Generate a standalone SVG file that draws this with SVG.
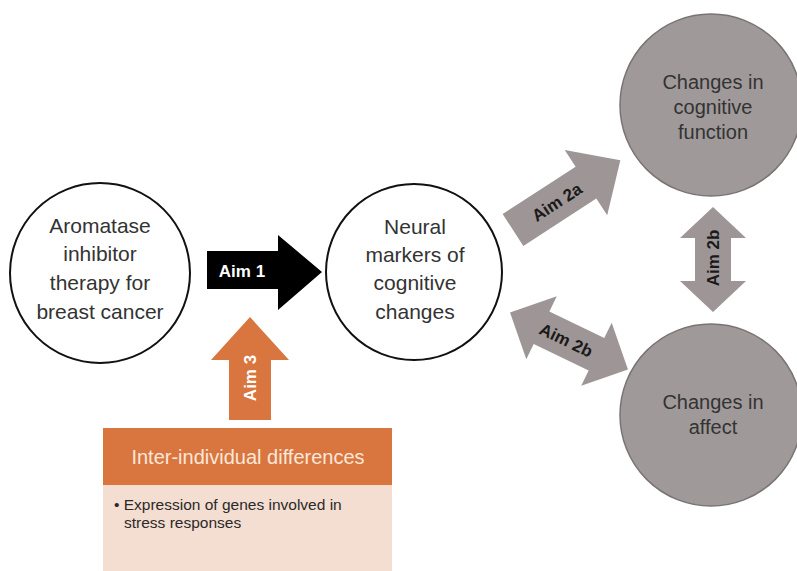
<svg xmlns="http://www.w3.org/2000/svg" width="797" height="571" viewBox="0 0 797 571">
<defs>
<style>
.t{font-family:"Liberation Sans",Arial,sans-serif;fill:#333;text-anchor:middle}
.big{font-size:21px}
.gt{font-size:20px}
.lbl{font-family:"Liberation Sans",Arial,sans-serif;font-weight:bold;font-size:17px;text-anchor:middle;dominant-baseline:central}
.wc{fill:#fff;stroke:#111;stroke-width:2}
.gc{fill:#a09999;stroke:#7a7373;stroke-width:1.5}
.ga{fill:#9e9696}
.bt{font-family:"Liberation Sans",Arial,sans-serif;font-size:15.5px;fill:#2a2a2a}
</style>
</defs>
<rect width="797" height="571" fill="#fff"/>
<g id="connectors">
<g id="aim1">
<polygon points="207,251 278,251 278,235 322,272 278,310 278,289 207,289" fill="#000"/>
<text class="lbl" x="242" y="271" fill="#fff">Aim 1</text>
</g>
<g id="aim2a" transform="translate(513,230) rotate(-33)">
<polygon class="ga" points="0,-19 87,-19 87,-39 128,0 87,39 87,19 0,19"/>
<text class="lbl" x="52" y="1" fill="#1a1a1a">Aim 2a</text>
</g>
<g id="aim2b-diag" transform="translate(569,341) rotate(25.8)">
<polygon class="ga" points="-65.5,0 -30.5,-35 -30.5,-18 30.5,-18 30.5,-35 65.5,0 30.5,35 30.5,18 -30.5,18 -30.5,35"/>
<text class="lbl" x="-3" y="1" fill="#1a1a1a">Aim 2b</text>
</g>
<g id="aim2b-vert">
<polygon class="ga" points="713,207 746,238 731,238 731,281 746,281 713,312 680,281 695,281 695,238 680,238"/>
<text class="lbl" x="0" y="0" fill="#1a1a1a" transform="translate(713,258) rotate(-90)">Aim 2b</text>
</g>
<g id="aim3">
<polygon points="250,317 289,360 271,360 271,420 229,420 229,360 211,360" fill="#d9763f"/>
<text class="lbl" x="0" y="0" fill="#fff" transform="translate(250,378) rotate(-90)">Aim 3</text>
</g>
</g>
<g id="node-ai">
<circle class="wc" cx="100" cy="273" r="90"/>
<text class="t big" x="100" y="233">Aromatase</text>
<text class="t big" x="100" y="261">inhibitor</text>
<text class="t big" x="100" y="290">therapy for</text>
<text class="t big" x="100" y="319">breast cancer</text>
</g>
<g id="node-neural">
<circle class="wc" cx="414" cy="272" r="88"/>
<text class="t big" x="415" y="234">Neural</text>
<text class="t big" x="415" y="262">markers of</text>
<text class="t big" x="415" y="290">cognitive</text>
<text class="t big" x="415" y="319">changes</text>
</g>
<g id="node-cognitive">
<circle class="gc" cx="711" cy="105" r="91"/>
<text class="t gt" x="713" y="89">Changes in</text>
<text class="t gt" x="713" y="114">cognitive</text>
<text class="t gt" x="713" y="139">function</text>
</g>
<g id="node-affect">
<circle class="gc" cx="711" cy="415" r="91"/>
<text class="t gt" x="713" y="409">Changes in</text>
<text class="t gt" x="713" y="434">affect</text>
</g>
<g id="node-inter">
<rect x="103" y="485" width="289" height="86" fill="#f4ddd1"/>
<rect x="103" y="428" width="289" height="57" fill="#d9763f"/>
<text class="t" style="font-size:20px;fill:#fbe7da" x="248" y="464">Inter-individual differences</text>
<text class="bt" x="114" y="510">• Expression of genes involved in</text>
<text class="bt" x="124" y="528">stress responses</text>
</g>
</svg>
